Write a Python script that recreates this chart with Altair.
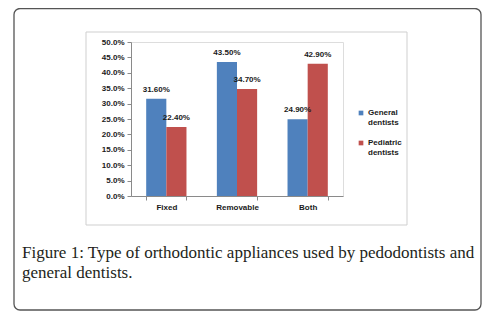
import altair as alt
import pandas as pd

categories = ["Fixed", "Removable", "Both"]
series = ["General dentists", "Pediatric dentists"]
general = [31.6, 43.5, 24.9]
pediatric = [22.4, 34.7, 42.9]
y_ticks = [0, 0.05, 0.10, 0.15, 0.20, 0.25, 0.30, 0.35, 0.40, 0.45, 0.50]
caption = ["Figure 1: Type of orthodontic appliances used by pedodontists and",
           "general dentists."]
colors = ["#4f81bd", "#c0504d"]

rows = []
for c, g, p in zip(categories, general, pediatric):
    rows.append({"cat": c, "series": series[0], "value": g / 100})
    rows.append({"cat": c, "series": series[1], "value": p / 100})
df = pd.DataFrame(rows)

FONT = "Liberation Sans"
dummy = alt.Data(values=[{}])

outer = alt.Chart(dummy).mark_rect(
    fill="transparent", stroke="#555555", strokeWidth=1.3, cornerRadius=6
).encode(x=alt.value(-117), x2=alt.value(350), y=alt.value(-33.5), y2=alt.value(268))

inner = alt.Chart(dummy).mark_rect(
    fill="transparent", stroke="#cfcfcf", strokeWidth=1
).encode(x=alt.value(-45), x2=alt.value(276), y=alt.value(-10), y2=alt.value(183))

xenc = alt.X("cat:N", sort=categories, title=None,
             scale=alt.Scale(paddingInner=0.43, paddingOuter=0.215),
             axis=alt.Axis(labelAngle=0, tickBand="extent", tickSize=4,
                           labelPadding=3, domainColor="#8a8a8a", tickColor="#8a8a8a",
                           labelFont=FONT, labelFontWeight="bold", labelFontSize=8,
                           labelColor="#1a1a1a", zindex=1))
yenc = alt.Y("value:Q", title=None,
             scale=alt.Scale(domain=[0, 0.5], nice=False),
             axis=alt.Axis(values=y_ticks, format=".1%", grid=False, tickSize=4,
                           labelPadding=3, domainColor="#8a8a8a", tickColor="#8a8a8a",
                           labelFont=FONT, labelFontWeight="bold", labelFontSize=8,
                           labelColor="#1a1a1a", labelOverlap=False, labelFlush=False,
                           zindex=1))
xoff = alt.XOffset("series:N", sort=series, scale=alt.Scale(paddingInner=0, paddingOuter=0))

bars = alt.Chart(df).mark_bar().encode(
    x=xenc, xOffset=xoff, y=yenc,
    color=alt.Color("series:N", sort=series, title=None,
                    scale=alt.Scale(domain=series, range=colors),
                    legend=alt.Legend(orient="none", legendX=226, legendY=67,
                                      symbolType="square", symbolSize=22,
                                      symbolStrokeWidth=0,
                                      labelExpr="split(datum.label, ' ')",
                                      labelFont=FONT, labelFontWeight="bold",
                                      labelFontSize=8, labelColor="#1a1a1a",
                                      labelBaseline="middle", labelOffset=3,
                                      rowPadding=12))
)

labels = alt.Chart(df).mark_text(
    font=FONT, fontWeight="bold", fontSize=8, color="#1a1a1a", dy=-9, baseline="middle"
).encode(x=xenc, xOffset=xoff, y=yenc,
         text=alt.Text("value:Q", format=".2%"))

cap = alt.Chart(dummy).mark_text(
    text=caption, font="Liberation Serif", fontSize=17, color="#231f20",
    align="left", baseline="alphabetic", lineHeight=20
).encode(x=alt.value(-109), y=alt.value(216))

chart = alt.layer(outer, inner, bars, labels, cap).properties(
    width=212, height=154,
    padding={"left": 123, "top": 34, "right": 144, "bottom": 117},
    autosize=alt.AutoSizeParams(type="none"),
).configure_view(stroke=None).configure(background="white")

chart.save("out.html", embed_options={"renderer": "svg", "actions": False})
